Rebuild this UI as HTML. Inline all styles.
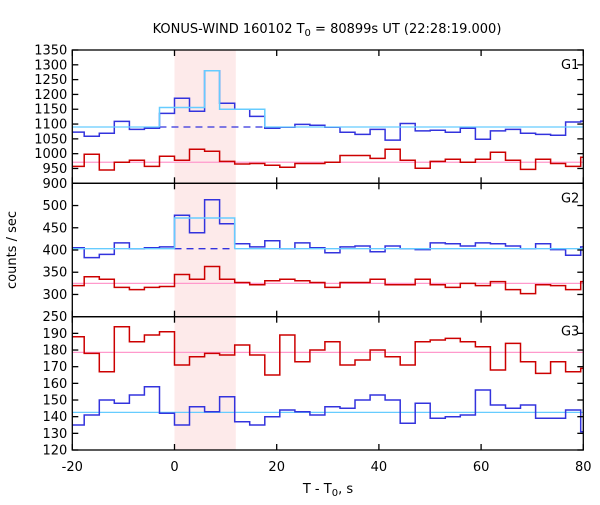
<!DOCTYPE html>
<html><head><meta charset="utf-8"><style>
body{margin:0;background:#fff;}
svg{font-family:"DejaVu Sans","Liberation Sans",sans-serif;}
</style></head><body>
<svg id="c" width="600" height="500" xmlns="http://www.w3.org/2000/svg"></svg>
<script>
const binWidth = 2.944;
const binStart = -7;
const g1Blue = [1073,1059,1069,1109,1082,1086,1136,1187,1143,1280,1170,1150,1126,1086,1089,1099,1096,1089,1072,1065,1082,1046,1102,1077,1079,1072,1086,1049,1077,1082,1069,1065,1062,1107,1110];
const g1Red = [957,998,945,971,978,957,991,978,1015,1008,974,965,967,961,954,967,967,971,994,994,984,1015,978,951,974,981,971,981,1005,978,947,981,967,957,988];
const g1BlueBg = 1090, g1RedBg = 971;
const g1Fit = [1156,1156,1156,1280,1150,1150,1150];
const g2Blue = [405,383,390,416,403,405,407,478,439,513,459,414,407,421,403,416,405,394,407,409,396,409,403,401,416,414,409,416,414,409,403,414,401,388,407];
const g2Red = [320,340,334,316,311,316,318,345,334,363,334,327,322,331,334,331,327,316,327,327,334,322,322,334,322,316,325,320,329,311,302,322,320,311,329];
const g2BlueBg = 403, g2RedBg = 325;
const g2Fit = [472,472,472,472];
const g3Red = [188,178,167,194,185,189,191,171,176,178,177,183,177,165,189,173,180,185,171,174,180,176,171,185,186,187,185,182,168,184,173,166,173,167,169];
const g3Blue = [135,141,150,148,153,158,142,135,146,143,152,137,135,140,144,143,141,146,145,150,153,150,136,148,139,140,141,156,147,145,147,139,139,144,131];
const g3BlueBg = 142.6, g3RedBg = 178.6;
const xTicks = [-20,0,20,40,60,80];
const g1Ticks = [900,950,1000,1050,1100,1150,1200,1250,1300,1350];
const g2Ticks = [250,300,350,400,450,500];
const g3Ticks = [120,130,140,150,160,170,180,190];

const NS="http://www.w3.org/2000/svg", svg=document.getElementById('c');
const L=72.3,R=583.3;
const X=v=>L+(v+20)*(R-L)/100;
function mk(t,a,p){const e=document.createElementNS(NS,t);for(const k in a)e.setAttribute(k,a[k]);(p||svg).appendChild(e);return e;}
const panels=[
 {name:'g1',top:50,bot:183.3,min:900,max:1350,ticks:g1Ticks,label:'G1'},
 {name:'g2',top:183.3,bot:316.7,min:250,max:550,ticks:g2Ticks,label:'G2'},
 {name:'g3',top:316.7,bot:450,min:120,max:200,ticks:g3Ticks,label:'G3'}
];
panels.forEach(p=>p.Y=v=>p.bot-(v-p.min)*(p.bot-p.top)/(p.max-p.min));
const sh=mk('rect',{x:X(0),y:50,width:X(12)-X(0),height:400,fill:'#fdeaea'});


function step(arr,Y,color,name,k0,base){
 let d='';
 arr.forEach((v,i)=>{const k=k0+i;let a=Math.max(-20,k*binWidth),b=Math.min(80,(k+1)*binWidth);
  if(i===0&&base!==undefined)d+='M'+X(a).toFixed(1)+','+Y(base).toFixed(1);
  d+=((i||base!==undefined)?'L':'M')+X(a).toFixed(1)+','+Y(v).toFixed(1)+'L'+X(b).toFixed(1)+','+Y(v).toFixed(1);
  if(i===arr.length-1&&base!==undefined)d+='L'+X(b).toFixed(1)+','+Y(base).toFixed(1);});
 const e=mk('path',{d:d,fill:'none',stroke:color,'stroke-width':1.5});
 
 
}
function hline(v,Y,color,name,x1,x2,dash){
 const e=mk('line',{x1:x1,x2:x2,y1:Y(v),y2:Y(v),stroke:color,'stroke-width':1.3});
 if(dash)e.setAttribute('stroke-dasharray','7,5');
 
 
}
const P=panels;
// G1
hline(g1RedBg,P[0].Y,'#ff99cc','g1-red-background',L,R);
step(g1Red,P[0].Y,'#cc0000','g1-red-series',binStart);
step(g1Blue,P[0].Y,'#3333dd','g1-blue-series',binStart);
hline(g1BlueBg,P[0].Y,'#66ccff','g1-blue-background-left',L,X(-1*binWidth));
hline(g1BlueBg,P[0].Y,'#66ccff','g1-blue-background-right',X(6*binWidth),R);
hline(g1BlueBg,P[0].Y,'#3333dd','g1-blue-background-dashed',X(-1*binWidth),X(6*binWidth),true);
step(g1Fit,P[0].Y,'#66ccff','g1-fit-step',-1,g1BlueBg);
// G2
hline(g2RedBg,P[1].Y,'#ff99cc','g2-red-background',L,R);
step(g2Red,P[1].Y,'#cc0000','g2-red-series',binStart);
step(g2Blue,P[1].Y,'#3333dd','g2-blue-series',binStart);
hline(g2BlueBg,P[1].Y,'#66ccff','g2-blue-background-left',L,X(0));
hline(g2BlueBg,P[1].Y,'#66ccff','g2-blue-background-right',X(4*binWidth),R);
hline(g2BlueBg,P[1].Y,'#3333dd','g2-blue-background-dashed',X(0),X(4*binWidth),true);
step(g2Fit,P[1].Y,'#66ccff','g2-fit-step',0,g2BlueBg);
// G3
hline(g3RedBg,P[2].Y,'#ff99cc','g3-red-background',L,R);
step(g3Red,P[2].Y,'#cc0000','g3-red-series',binStart);
hline(g3BlueBg,P[2].Y,'#66ccff','g3-blue-background',L,R);
step(g3Blue,P[2].Y,'#3333dd','g3-blue-series',binStart);
panels.forEach(p=>{
 const g=mk('g',{});
 
 
 mk('rect',{x:L,y:p.top,width:R-L,height:p.bot-p.top,fill:'none',stroke:'#000','stroke-width':1.3},g);
 xTicks.forEach(t=>{mk('line',{x1:X(t),x2:X(t),y1:p.bot,y2:p.bot-6,stroke:'#000','stroke-width':1.3},g);
  mk('line',{x1:X(t),x2:X(t),y1:p.top,y2:p.top+6,stroke:'#000','stroke-width':1.3},g);});
 p.ticks.forEach(t=>{const y=p.Y(t);
  mk('line',{x1:L,x2:L+6,y1:y,y2:y,stroke:'#000','stroke-width':1.3},g);
  mk('line',{x1:R,x2:R-6,y1:y,y2:y,stroke:'#000','stroke-width':1.3},g);
  const tx=mk('text',{x:L-5,y:y+4.5,'text-anchor':'end','font-size':13},g);tx.textContent=t;});
 const lb=mk('text',{x:R-4,y:p.top+19,'text-anchor':'end','font-size':13});
 lb.textContent=p.label;
 
 
});
xTicks.forEach(t=>{const tx=mk('text',{x:X(t),y:471,'text-anchor':'middle','font-size':13});tx.textContent=t;});
</script>
<svg style="position:absolute;left:0;top:0" width="600" height="500" font-family="DejaVu Sans, Liberation Sans, sans-serif">
<text x="327" y="33" text-anchor="middle" font-size="13">KONUS-WIND 160102 T<tspan font-size="10" dy="3">0</tspan><tspan dy="-3"> = 80899s UT (22:28:19.000)</tspan></text>
<text transform="translate(16,250) rotate(-90)" text-anchor="middle" font-size="13">counts / sec</text>
<text x="328" y="493" text-anchor="middle" font-size="13">T - T<tspan font-size="10" dy="3">0</tspan><tspan dy="-3">, s</tspan></text>
</svg>
</body></html>
